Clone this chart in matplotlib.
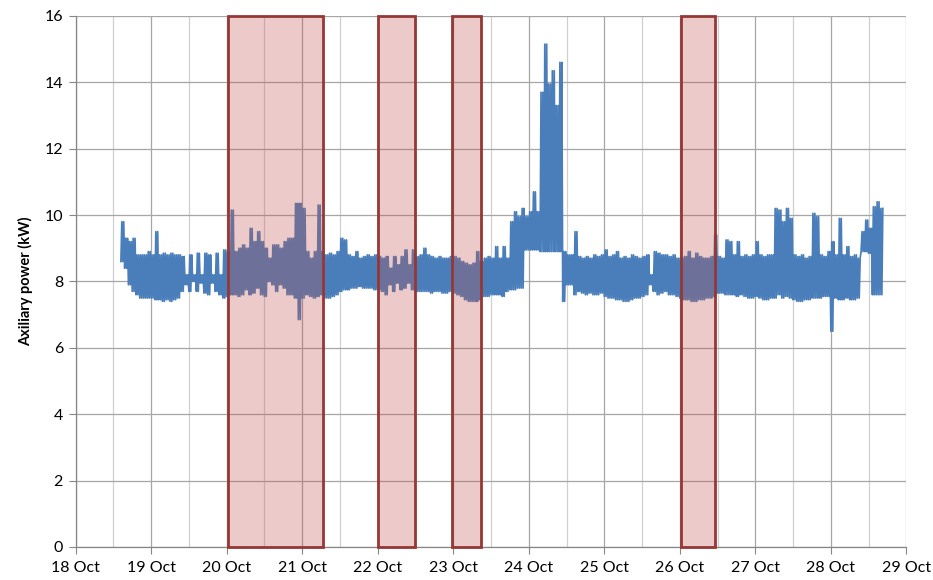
import numpy as np
import matplotlib
matplotlib.use("Agg")
import matplotlib.pyplot as plt
from matplotlib.patches import Rectangle
from matplotlib.ticker import MultipleLocator, FixedLocator

plt.rcParams['font.family'] = ['Lato', 'DejaVu Sans']

# sample times (day of October), one reading every 0.05 day
t_start = 18.60
step = 0.05

# upper envelope of the auxiliary power trace (kW)
power_high = [
    # 18.60 - 18.95
    9.8, 9.3, 9.2, 9.3, 8.8, 8.8, 8.8, 8.9,
    # 19.00 - 19.95
    8.8, 9.5, 8.8, 8.85, 8.8, 8.85, 8.8, 8.8, 8.75, 8.2,
    8.8, 8.2, 8.85, 8.2, 8.85, 8.8, 8.2, 8.85, 8.2, 8.95,
    # 20.00 - 20.95
    8.9, 10.15, 8.9, 9.0, 9.1, 9.0, 9.6, 9.2, 9.5, 9.2,
    9.0, 8.7, 9.1, 9.1, 9.0, 9.2, 9.3, 9.3, 10.35, 10.35,
    # 21.00 - 21.95
    10.2, 8.9, 8.7, 8.9, 10.3, 8.9, 8.8, 8.85, 8.8, 8.9,
    9.3, 9.25, 8.8, 8.75, 8.9, 8.7, 8.75, 8.8, 8.75, 8.8,
    # 22.00 - 22.95
    8.75, 8.7, 8.75, 8.4, 8.75, 8.5, 8.75, 8.95, 8.5, 8.95,
    8.75, 8.8, 9.0, 8.8, 8.75, 8.7, 8.75, 8.7, 8.7, 8.75,
    # 23.00 - 23.95
    8.75, 8.7, 8.6, 8.55, 8.5, 8.55, 8.9, 8.6, 8.7, 8.75,
    8.7, 9.05, 8.7, 9.05, 8.7, 9.8, 10.1, 9.95, 10.2, 9.95,
    # 24.00 - 24.95
    10.1, 10.7, 10.1, 13.7, 15.15, 13.95, 14.35, 13.3, 14.6, 8.9,
    8.8, 8.8, 9.5, 8.75, 8.7, 8.75, 8.7, 8.8, 8.75, 8.8,
    # 25.00 - 25.95
    8.95, 8.75, 8.8, 8.9, 8.7, 8.75, 8.7, 8.8, 8.75, 8.7,
    8.75, 8.8, 8.2, 8.9, 8.85, 8.8, 8.8, 8.75, 8.8, 8.7,
    # 26.00 - 26.95
    8.7, 8.75, 8.9, 8.7, 8.85, 8.75, 8.7, 8.7, 8.75, 9.4,
    8.75, 8.7, 9.25, 9.2, 8.8, 9.2, 8.75, 8.8, 8.75, 8.8,
    # 27.00 - 27.95
    9.2, 8.8, 8.75, 8.8, 8.8, 10.2, 10.15, 9.8, 10.2, 9.9,
    8.8, 8.75, 8.8, 8.7, 8.75, 10.05, 9.95, 8.8, 8.75, 8.9,
    # 28.00 - 28.65
    9.2, 8.8, 9.9, 8.8, 9.05, 8.75, 8.8, 8.7, 9.5, 9.85,
    9.6, 10.25, 10.4, 10.2,
]

# lower envelope of the trace (kW)
power_low = [
    # 18.60 - 18.95
    8.6, 8.4, 7.9, 7.7, 7.6, 7.5, 7.5, 7.5,
    # 19.00 - 19.95
    7.5, 7.45, 7.45, 7.4, 7.45, 7.4, 7.45, 7.5, 7.7, 7.9,
    7.7, 8.0, 7.7, 7.95, 7.65, 7.6, 7.95, 7.7, 7.6, 7.5,
    # 20.00 - 20.95
    7.55, 7.6, 7.6, 7.55, 7.6, 7.75, 7.6, 7.65, 7.8, 7.6,
    7.55, 8.0, 7.9, 7.7, 7.9, 7.8, 7.6, 7.6, 7.5, 6.85,
    # 21.00 - 21.95
    7.5, 7.6, 7.55, 7.5, 7.55, 7.6, 7.5, 7.5, 7.55, 7.6,
    7.7, 7.75, 7.75, 7.8, 7.8, 7.85, 7.8, 7.8, 7.8, 7.75,
    # 22.00 - 22.95
    7.75, 7.7, 7.6, 7.9, 7.7, 7.95, 7.75, 7.8, 7.95, 7.75,
    7.7, 7.7, 7.7, 7.7, 7.65, 7.7, 7.7, 7.65, 7.65, 7.7,
    # 23.00 - 23.95
    7.65, 7.6, 7.55, 7.45, 7.4, 7.4, 7.4, 7.45, 7.55, 7.55,
    7.6, 7.6, 7.6, 7.55, 7.7, 7.75, 7.75, 7.8, 7.8, 8.95,
    # 24.00 - 24.95
    8.95, 8.95, 8.95, 8.9, 8.9, 8.9, 8.9, 8.9, 8.9, 7.4,
    7.9, 7.9, 7.6, 7.7, 7.65, 7.6, 7.65, 7.6, 7.6, 7.65,
    # 25.00 - 25.95
    7.55, 7.5, 7.5, 7.45, 7.45, 7.4, 7.4, 7.45, 7.5, 7.5,
    7.55, 7.6, 7.9, 7.7, 7.6, 7.65, 7.7, 7.6, 7.6, 7.55,
    # 26.00 - 26.95
    7.5, 7.45, 7.45, 7.4, 7.4, 7.45, 7.45, 7.5, 7.5, 7.55,
    7.65, 7.65, 7.6, 7.6, 7.6, 7.55, 7.6, 7.55, 7.5, 7.5,
    # 27.00 - 27.95
    7.55, 7.5, 7.45, 7.45, 7.5, 7.5, 7.6, 7.5, 7.55, 7.5,
    7.45, 7.4, 7.4, 7.45, 7.45, 7.5, 7.5, 7.5, 7.55, 7.55,
    # 28.00 - 28.65
    6.5, 7.5, 7.45, 7.45, 7.5, 7.45, 7.45, 7.5, 8.9, 8.9,
    8.85, 7.6, 7.6, 7.6,
]

# highlighted periods (start day, end day)
periods = [(20.02, 21.27), (22.0, 22.49), (22.98, 23.37), (26.01, 26.47)]

x_min, x_max = 18, 29
y_min, y_max = 0, 16

times = t_start + step * np.arange(len(power_high))
low = np.array(power_low)
high = np.array(power_high)

# trace zig-zags between the read low and high values, twice per sample
sub = step / 4
tx = np.column_stack([times, times + sub, times + 2 * sub, times + 3 * sub]).ravel()
ty = np.column_stack([low, high, low, high]).ravel()

fig = plt.figure(figsize=(9.33, 5.8), dpi=100)
ax = fig.add_axes([0.081, 0.057, 0.8905, 0.9155])

ax.plot(tx, ty, color='#4A7EBB', lw=1.25, zorder=3)

for a, b in periods:
    ax.add_patch(Rectangle((a, y_min), b - a, y_max - y_min,
                           facecolor=(0.753, 0.314, 0.302, 0.3),
                           edgecolor='#953735', lw=2.0, zorder=4, clip_on=False))

ax.set_xlim(x_min, x_max)
ax.set_ylim(y_min, y_max)

days = np.arange(x_min, x_max + 1)
ax.xaxis.set_major_locator(FixedLocator(days))
ax.xaxis.set_minor_locator(MultipleLocator(0.5))
ax.set_xticklabels([f'{d} Oct' for d in days])
ax.yaxis.set_major_locator(MultipleLocator(2))

ax.grid(which='major', color='#A6A6A6', lw=0.9)
ax.grid(which='minor', axis='x', color='#D0D0D0', lw=0.9)
ax.set_axisbelow(True)

for s in ['top', 'right']:
    ax.spines[s].set_visible(False)
for s in ['left', 'bottom']:
    ax.spines[s].set_color('#868686')
    ax.spines[s].set_linewidth(0.9)

ax.tick_params(axis='x', which='major', length=5, color='#868686', labelsize=11.5,
               pad=5, labelcolor='black')
ax.tick_params(axis='x', which='minor', length=0)
ax.tick_params(axis='y', length=5, color='#868686', labelsize=11.5, pad=4)

ax.set_ylabel('Axiliary power (kW)', fontsize=10.5, fontweight='bold', labelpad=8)

fig.savefig('out.png', dpi=100)
